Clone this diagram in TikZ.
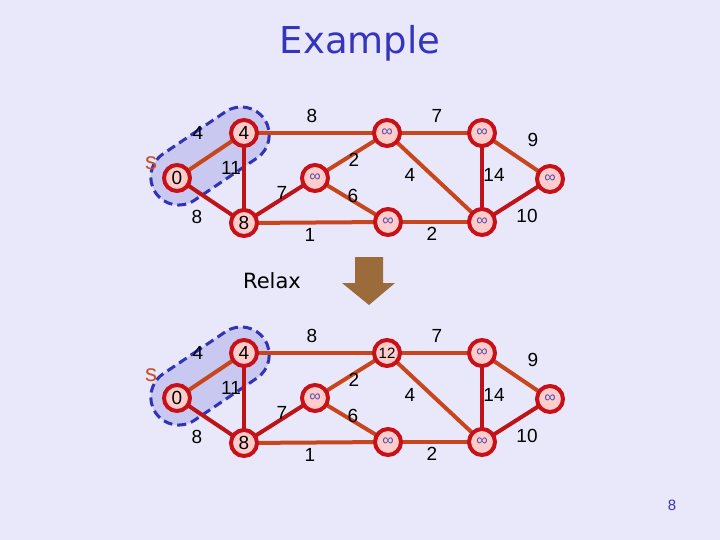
\documentclass[tikz,border=0pt]{standalone}
\usepackage{fontspec}
\setmainfont{Liberation Sans}
\newfontfamily\titlefont{DejaVu Sans}
\usetikzlibrary{shapes.misc}

\definecolor{bgcol}{RGB}{232,232,250}
\definecolor{ringcol}{RGB}{200,16,24}
\definecolor{vfill}{RGB}{255,204,204}
\definecolor{orgcol}{RGB}{200,70,30}
\definecolor{redcol}{RGB}{190,20,24}
\definecolor{blobfill}{RGB}{200,200,240}
\definecolor{blobline}{RGB}{50,50,180}
\definecolor{infcol}{RGB}{80,80,176}
\definecolor{titlecol}{RGB}{52,52,190}
\definecolor{slabcol}{RGB}{200,80,40}
\definecolor{arrowcol}{RGB}{156,107,60}

\newcommand{\infsym}{{\color{infcol}\fontsize{16}{16}\selectfont\raisebox{-2pt}{∞}}}
\newcommand{\twelve}{{\fontsize{15}{15}\selectfont 12}}

\tikzset{
  vertex/.style={circle, draw=ringcol, fill=vfill, line width=4pt,
    minimum size=26pt, inner sep=0pt, font=\fontsize{19}{19}\selectfont},
  orgedge/.style={draw=orgcol, line width=4pt},
  rededge/.style={draw=redcol, line width=4pt},
  lbl/.style={font=\fontsize{19}{19}\selectfont, inner sep=0pt},
  blob/.style={rounded rectangle, draw=blobline, fill=blobfill, line width=3pt,
    dash pattern=on 9pt off 5pt, minimum width=138pt, minimum height=56pt}
}

\begin{document}
\begin{tikzpicture}[x=1pt, y=-1pt]

  % background and page frame
  \fill[bgcol] (0,0) rectangle (720,540);
  \useasboundingbox (0,0) rectangle (720,540);

  % The title
  \node[anchor=base, text=titlecol, font=\titlefont\fontsize{37}{37}\selectfont] (title) at (360,54) {Example};

  % The two graphs, before and after the relaxation
  \foreach \g/\dy/\dtext/\sy in {t/0/\infsym/163, b/220/\twelve/375} {

    % The set around s
    \node[blob, rotate=34] (\g blob) at (210,156+\dy) {};
    \node[text=slabcol, font=\fontsize{24}{24}\selectfont] (\g slab) at (151,\sy) {s};

    % The vertices
    \coordinate (\g S) at (177,178+\dy);
    \coordinate (\g A) at (244,133+\dy);
    \coordinate (\g B) at (244,223+\dy);
    \coordinate (\g C) at (315,178+\dy);
    \coordinate (\g D) at (387,133+\dy);
    \coordinate (\g E) at (388,222+\dy);
    \coordinate (\g F) at (482,133+\dy);
    \coordinate (\g G) at (482,222+\dy);
    \coordinate (\g H) at (550,179+\dy);

    % The edges
    \foreach \a/\b in {S/A, A/D, B/E, C/D, C/E, D/F, D/G, E/G, F/H}
      \draw[orgedge] (\g\a) -- (\g\b);
    \foreach \a/\b in {S/B, A/B, B/C, F/G, G/H}
      \draw[rededge] (\g\a) -- (\g\b);

    \node[vertex] (\g s) at (\g S) {0};
    \node[vertex] (\g a) at (\g A) {4};
    \node[vertex] (\g b) at (\g B) {8};
    \node[vertex] (\g c) at (\g C) {\infsym};
    \node[vertex] (\g d) at (\g D) {\dtext};
    \node[vertex] (\g e) at (\g E) {\infsym};
    \node[vertex] (\g f) at (\g F) {\infsym};
    \node[vertex] (\g g) at (\g G) {\infsym};
    \node[vertex] (\g h) at (\g H) {\infsym};

    % The weights
    \foreach \lx/\ly/\lt [count=\i] in {198/133/4, 231/168/11, 197/217/8,
        312/116/8, 282/193/7, 310/235/1, 354/160/2, 353/196/6, 437/116/7,
        410/175/4, 494/175/14, 533/140/9, 527/216/10, 432/234/2}
      \node[lbl] (\g w\i) at (\lx,\ly+\dy) {\lt};
  }

  % The relaxation step
  \node[font=\titlefont\fontsize{21}{21}\selectfont] (relax) at (272,281) {Relax};
  \fill[arrowcol] (355,257) -- (383,257) -- (383,283) -- (395,283) -- (369,305)
    -- (342,283) -- (355,283) -- cycle;

  % The page number
  \node[text=titlecol, font=\fontsize{15}{15}\selectfont] (page) at (672,505) {8};

\end{tikzpicture}
\end{document}
